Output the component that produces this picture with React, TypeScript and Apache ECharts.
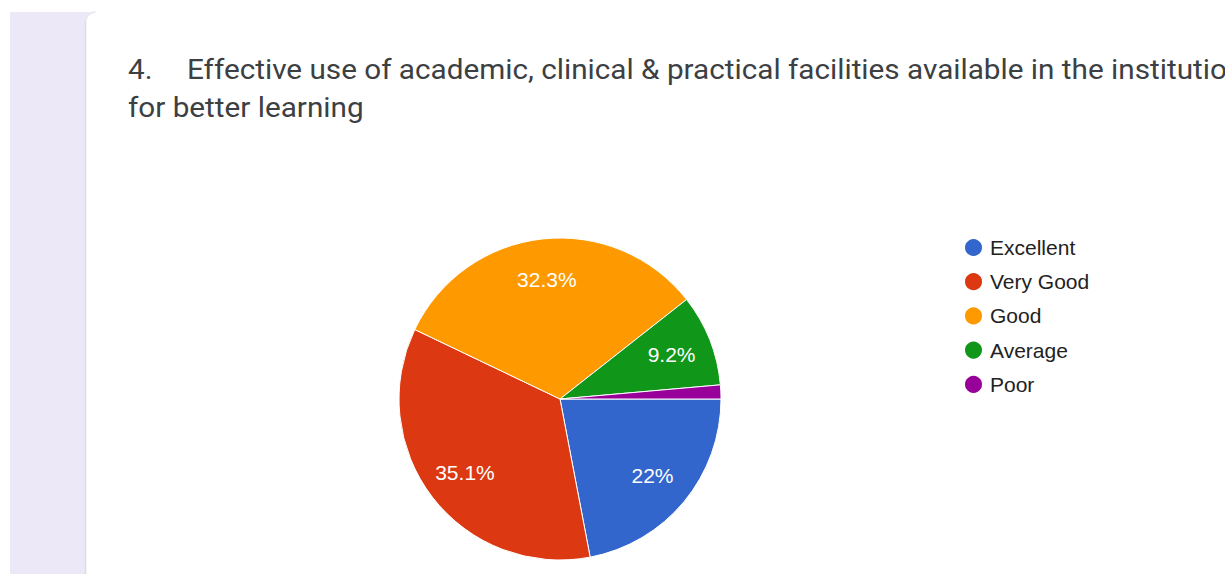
import React, { useEffect, useRef } from "react";
import * as echarts from "echarts";

const categories = ["Excellent", "Very Good", "Good", "Average", "Poor"];
const values = [22, 35.1, 32.3, 9.2, 1.4];
const colors = ["#3366cc", "#dc3912", "#ff9900", "#109618", "#990099"];
const questionNumber = "4.";
const questionLine1 = "Effective use of academic, clinical & practical facilities available in the institution";
const questionLine2 = "for better learning";

export default function App() {
  const ref = useRef<HTMLDivElement>(null);
  useEffect(() => {
    if (!ref.current) return;
    const chart = echarts.init(ref.current, null, { renderer: "svg" });
    const data = categories.map((name, i) => ({
      name,
      value: values[i],
      itemStyle: { color: colors[i] },
    }));
    const labelData = categories.map((name, i) => ({
      name,
      value: values[i],
      label: { show: values[i] >= 5 },
    }));
    const titleFont = "Roboto, 'Noto Sans', Arial, sans-serif";
    const titleStyle = { font: `27px ${titleFont}`, fill: "#3c4043", verticalAlign: "middle" };
    chart.setOption({
      animation: false,
      backgroundColor: "#ffffff",
      graphic: [
        { type: "rect", z: -10, shape: { x: 10, y: 12, width: 80, height: 600 }, style: { fill: "#ece8f8" }, silent: true },
        { type: "rect", z: -9, shape: { x: 85, y: 12, width: 1200, height: 600, r: [10, 0, 0, 0] }, style: { fill: "#ffffff" }, silent: true },
        { type: "line", z: -8, shape: { x1: 85.5, y1: 22, x2: 85.5, y2: 580 }, style: { stroke: "#dcdce2", lineWidth: 1.5 }, silent: true },
        { type: "arc", z: -8, shape: { cx: 95.5, cy: 22, r: 10, startAngle: Math.PI, endAngle: Math.PI * 1.5 }, style: { stroke: "#e6e6ec", lineWidth: 1.5, fill: "none" }, silent: true },
        { type: "text", x: 128, y: 70, scaleX: 1.1, style: { text: questionNumber, ...titleStyle } },
        { type: "text", x: 187, y: 70, scaleX: 1.1, style: { text: questionLine1, ...titleStyle } },
        { type: "text", x: 128, y: 108, scaleX: 1.1, style: { text: questionLine2, ...titleStyle } },
      ],
      legend: {
        orient: "vertical",
        left: 958,
        top: 232,
        icon: "circle",
        itemWidth: 19,
        itemHeight: 19,
        itemGap: 13.2,
        data: categories,
        textStyle: {
          fontFamily: "Arial, 'Liberation Sans', sans-serif",
          fontSize: 21,
          lineHeight: 20,
          color: "#222222",
          padding: [0, 0, 0, 2],
        },
      },
      series: [
        {
          type: "pie",
          center: [560, 399],
          radius: [0, 161],
          startAngle: 0,
          clockwise: true,
          data,
          label: { show: false },
          labelLine: { show: false },
          itemStyle: { borderColor: "#ffffff", borderWidth: 1 },
          emphasis: { disabled: true },
        },
        {
          type: "pie",
          center: [560, 399],
          radius: [73, 161],
          startAngle: 0,
          clockwise: true,
          silent: true,
          data: labelData,
          itemStyle: { color: "rgba(0,0,0,0)", borderWidth: 0 },
          label: {
            show: true,
            position: "inside",
            formatter: (p: any) => `${p.value}%`,
            color: "#ffffff",
            fontFamily: "Arial, 'Liberation Sans', sans-serif",
            fontSize: 21,
          },
          labelLine: { show: false },
          emphasis: { disabled: true },
          legendHoverLink: false,
        },
      ],
    });
    return () => chart.dispose();
  }, []);
  return (
    <div
      ref={ref}
      style={{ position: "fixed", left: 0, top: 0, width: 1225, height: 574 }}
    />
  );
}
